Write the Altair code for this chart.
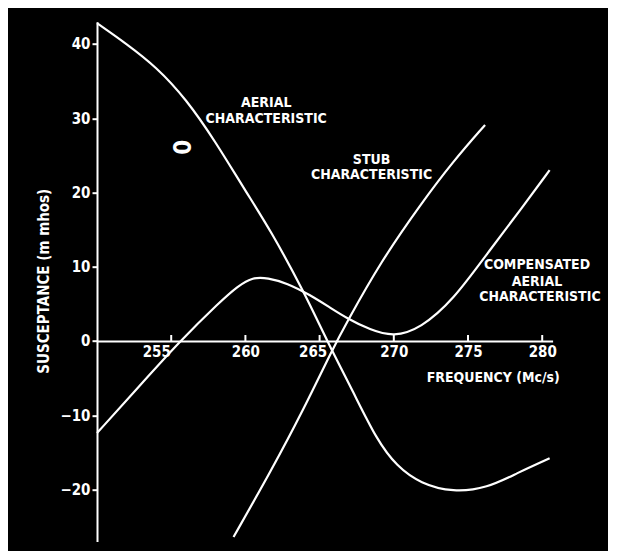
import altair as alt
import pandas as pd

# ---- data ----
aerial_f = [250.0, 252.0, 254.0, 256.0, 258.0, 260.0, 261.7, 264.0, 265.5, 267.3,
            268.85, 270.2, 271.8, 274.0, 276.3, 278.3, 280.5]
aerial_b = [42.8, 40.0, 36.9, 32.6, 26.8, 20.2, 14.9, 6.4, 0.0, -7.0,
            -13.3, -16.9, -19.2, -20.4, -19.8, -17.8, -15.8]

stub_f = [259.2, 261.7, 263.9, 265.9, 266.8, 269.1, 271.8, 274.0, 276.15]
stub_b = [-26.4, -17.6, -9.3, -1.0, 2.4, 10.6, 18.4, 24.2, 29.1]

comp_f = [250.0, 252.8, 255.6, 258.3, 259.5, 260.5, 261.5, 262.8, 264.35, 265.7,
          266.8, 268.4, 270.0, 271.8, 274.0, 276.3, 278.7, 280.5]
comp_b = [-12.4, -6.2, 0.0, 5.3, 7.4, 8.6, 8.5, 7.8, 6.2, 4.5,
          3.1, 1.5, 0.55, 1.7, 5.5, 11.8, 18.1, 23.0]

x_ticks = [255, 260, 265, 270, 275, 280]
y_ticks = [-20, -10, 0, 10, 20, 30, 40]

label_text = ["AERIAL", "CHARACTERISTIC", "STUB", "CHARACTERISTIC",
              "COMPENSATED", "AERIAL", "CHARACTERISTIC", "FREQUENCY (Mc/s)"]
label_f = [261.4, 261.4, 268.5, 268.5, 279.65, 279.65, 279.85, 276.7]
label_b = [32.05, 29.9, 24.4, 22.4, 10.2, 7.9, 5.9, -5.0]

glyph_text = ["0"]
glyph_f = [255.6]
glyph_b = [26.1]

# ---- layout ----
X_DOMAIN = [250, 280.7]
Y_DOMAIN = [-27, 43]
W = 455.6
H = 519.75
FONT = "DejaVu Sans Condensed, Liberation Sans Narrow, sans-serif"
zero_offset = -H * (0 - Y_DOMAIN[0]) / (Y_DOMAIN[1] - Y_DOMAIN[0])

curves = pd.concat([
    pd.DataFrame({"f": aerial_f, "b": aerial_b, "s": "aerial"}),
    pd.DataFrame({"f": stub_f, "b": stub_b, "s": "stub"}),
    pd.DataFrame({"f": comp_f, "b": comp_b, "s": "comp"}),
])
ticks_df = pd.DataFrame({"f": x_ticks, "b": [0] * len(x_ticks), "b2": [0.8] * len(x_ticks)})
labels_df = pd.DataFrame({"f": label_f, "b": label_b, "t": label_text})
glyph_df = pd.DataFrame({"f": glyph_f, "b": glyph_b, "t": glyph_text})

xs = alt.Scale(domain=X_DOMAIN, nice=False, zero=False)
ys = alt.Scale(domain=Y_DOMAIN, nice=False, zero=False)

x_axis = alt.Axis(
    values=x_ticks, ticks=False, tickSize=0, grid=False, title=None,
    offset=zero_offset, domainColor="white", domainWidth=2,
    labelColor="white", labelFont=FONT, labelFontWeight="bold", labelFontSize=15,
    labelPadding=4, labelFlush=False,
    labelOffset={"condition": [{"test": "datum.value == 255", "value": -15},
                               {"test": "datum.value == 265", "value": -7}],
                 "value": 0},
)
y_axis = alt.Axis(
    values=y_ticks, grid=False, title="SUSCEPTANCE (m mhos)",
    domainColor="white", domainWidth=2, tickColor="white", tickWidth=2, tickSize=5,
    labelColor="white", labelFont=FONT, labelFontWeight="bold", labelFontSize=15,
    labelPadding=2, labelFlush=False,
    titleColor="white", titleFont=FONT, titleFontWeight="bold", titleFontSize=15,
    titleAngle=270, titleX=-49, titleY=259, titleAlign="center", titleBaseline="alphabetic",
)

lines = alt.Chart(curves).mark_line(color="white", strokeWidth=2.2, interpolate="basis").encode(
    x=alt.X("f:Q", scale=xs, axis=x_axis),
    y=alt.Y("b:Q", scale=ys, axis=y_axis),
    detail="s:N",
)

tick_marks = alt.Chart(ticks_df).mark_rule(color="white", strokeWidth=2).encode(
    x="f:Q", y="b:Q", y2="b2:Q",
)

labels = alt.Chart(labels_df).mark_text(
    color="white", font=FONT, fontWeight="bold", fontSize=14, baseline="middle", align="center"
).encode(x="f:Q", y="b:Q", text="t:N")

glyph = alt.Chart(glyph_df).mark_text(
    color="white", font=FONT, fontWeight="bold", fontSize=24, angle=90,
    baseline="middle", align="center"
).encode(x="f:Q", y="b:Q", text="t:N")

chart = alt.layer(lines, tick_marks, labels, glyph).properties(
    width=W, height=H,
    background="black",
    padding={"left": 89, "top": 13.7, "right": 55.4, "bottom": 10},
    autosize=alt.AutoSizeParams(type="none"),
).configure_view(stroke=None)

chart.save("out.html", embed_options={"renderer": "svg", "actions": False})
